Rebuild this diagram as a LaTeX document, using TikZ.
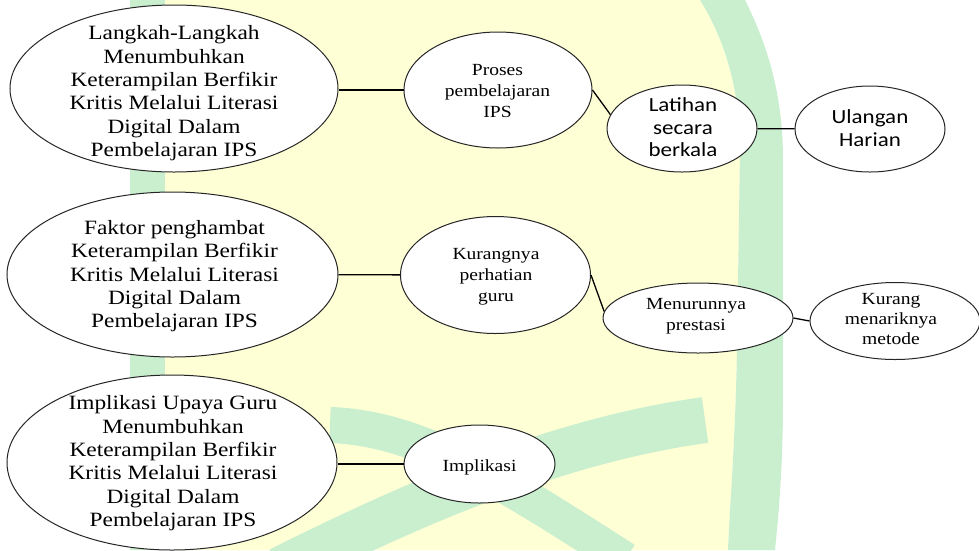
\documentclass[tikz,border=0pt]{standalone}
\usepackage{fontspec}
\setmainfont[FakeStretch=1.15]{Liberation Serif}
\newfontfamily\calib[FakeStretch=1.15]{Carlito}
\usetikzlibrary{shapes.geometric}
\definecolor{wmyellow}{RGB}{255,255,214}
\definecolor{wmgreen}{RGB}{201,239,206}
\tikzset{
  ell/.style={ellipse, draw=black!85, line width=1pt, fill=white, inner sep=0pt},
  conn/.style={draw=black, line width=1.3pt},
  bigtxt/.style={align=center, inner sep=0pt, font=\fontsize{20.3}{23.3}\selectfont},
  smalltxt/.style={align=center, inner sep=0pt, font=\fontsize{17}{21}\selectfont},
  sanstxt/.style={align=center, inner sep=0pt, font=\calib\fontsize{20}{22.6}\selectfont},
}
\begin{document}
\begin{tikzpicture}[x=1pt,y=-1pt]
\useasboundingbox (0,0) rectangle (979,550);
% watermark background
\fill[wmyellow] (165,0) -- (700,0) .. controls (725,40) and (740,90) .. (740,150) -- (737,350) .. controls (735,450) and (730,500) .. (728,550) -- (165,550) -- cycle;
\fill[wmgreen] (130,0) rectangle (165,550);
\fill[wmgreen] (700,0) -- (745,0) .. controls (770,50) and (783,100) .. (783,160) -- (783,400) .. controls (783,470) and (778,520) .. (775,550) -- (728,550) .. controls (730,500) and (735,450) .. (737,350) -- (740,150) .. controls (740,90) and (725,40) .. (700,0) -- cycle;
\draw[wmgreen, line width=36pt] (330,425) .. controls (420,428) and (500,480) .. (625,560);
\draw[wmgreen, line width=46pt] (280,570) .. controls (420,500) and (560,440) .. (705,420);

% row 1
\node[ell, minimum width=328pt, minimum height=167pt] (A1) at (174,88.5) {};
\node[bigtxt] (A1t) at (174,93.2) {Langkah-Langkah\\Menumbuhkan\\Keterampilan Berfikir\\Kritis Melalui Literasi\\Digital Dalam\\Pembelajaran IPS};
\node[ell, minimum width=188pt, minimum height=116pt] (B1) at (498,90) {};
\node[smalltxt] (B1t) at (497.5,91.1) {Proses\\pembelajaran\\IPS};
\node[ell, minimum width=150pt, minimum height=87pt] (C1) at (682,128.5) {};
\node[sanstxt] (C1t) at (683,127.4) {Latihan\\secara\\berkala};
\node[ell, minimum width=150pt, minimum height=86pt] (D1) at (870,129) {};
\node[sanstxt] (D1t) at (870,128.3) {Ulangan\\Harian};

% row 2
\node[ell, minimum width=331pt, minimum height=165pt] (A2) at (172.5,274.5) {};
\node[bigtxt] (A2t) at (174.5,276.3) {Faktor penghambat\\Keterampilan Berfikir\\Kritis Melalui Literasi\\Digital Dalam\\Pembelajaran IPS};
\node[ell, minimum width=190pt, minimum height=117pt] (B2) at (495.5,275) {};
\node[smalltxt] (B2t) at (496,277.2) {Kurangnya\\perhatian\\guru};
\node[ell, minimum width=190pt, minimum height=70pt] (C2) at (698,318) {};
\node[smalltxt] (C2t) at (696,316.7) {Menurunnya\\prestasi};
\node[ell, minimum width=170pt, minimum height=77pt] (D2) at (895,321) {};
\node[smalltxt, font=\fontsize{17}{20}\selectfont] (D2t) at (891,319.4) {Kurang\\menariknya\\metode};

% row 3
\node[ell, minimum width=330pt, minimum height=175pt] (A3) at (172,462.5) {};
\node[bigtxt] (A3t) at (173,463.3) {Implikasi Upaya Guru\\Menumbuhkan\\Keterampilan Berfikir\\Kritis Melalui Literasi\\Digital Dalam\\Pembelajaran IPS};
\node[ell, minimum width=151pt, minimum height=78pt] (B3) at (479.5,464) {};
\node[smalltxt] (B3t) at (479.5,467) {Implikasi};

% connectors
\draw[conn] (A1.east |- B1.west) -- (B1.west);
\draw[conn] (B1.east) -- (C1.169);
\draw[conn] (C1) -- (D1);
\draw[conn] (A2) -- (B2);
\draw[conn] (B2.east) -- (C2.176);
\draw[conn] (C2.east) -- (D2.west);
\draw[conn] (A3.east |- B3.west) -- (B3.west);
\end{tikzpicture}
\end{document}
